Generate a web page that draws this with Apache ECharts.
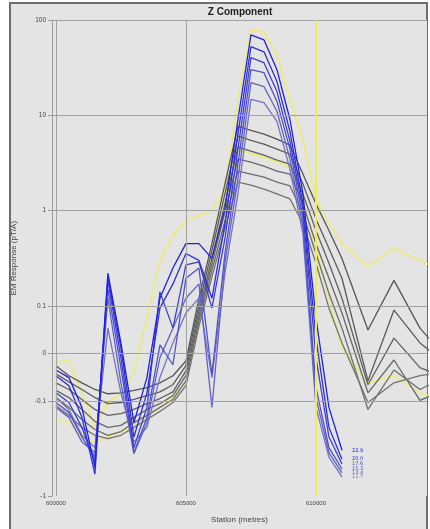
<!DOCTYPE html>
<html>
<head>
<meta charset="utf-8">
<script src="https://cdn.jsdelivr.net/npm/echarts@6/dist/echarts.min.js"></script>
<style>
html, body { margin: 0; padding: 0; background: #ffffff; }
#chart { width: 430px; height: 529px; }
</style>
</head>
<body>
<div id="chart"></div>
<script>
// stations (metres) - 500 m spacing up to 611000, then 1000 m
var stations = [600000, 600500, 601000, 601500, 602000, 602500, 603000, 603500, 604000, 604500,
    605000, 605500, 606000, 606500, 607000, 607500, 608000, 608500, 609000, 609500,
    610000, 610500, 611000, 612000, 613000, 614000, 614500];

// EM response pT/A, blue channels (end at 611000)
var blue1 = [-0.035, -0.051, -0.117, -0.50, 0.22, 0.022, -0.169, -0.051, 0.12, 0.25, 0.45, 0.45, 0.315, 1.05, 9.1, 70.6, 62.7, 30.4, 9.1, 1.50, 0.074, -0.117, -0.33];
var blue2 = [-0.047, -0.068, -0.149, -0.59, 0.20, 0.011, -0.24, -0.083, 0.095, 0.17, 0.355, 0.30, 0.12, 0.73, 6.4, 53.0, 46.9, 22.8, 6.8, 1.18, 0.032, -0.19, -0.41];
var blue3 = [-0.083, -0.104, -0.19, -0.44, 0.185, -0.009, -0.31, -0.117, 0.14, 0.053, 0.27, 0.29, 0.095, 0.51, 4.44, 40.6, 36.0, 17.9, 5.4, 1.0, -0.009, -0.24, -0.46];
var blue4 = [-0.104, -0.132, -0.24, -0.39, 0.15, -0.030, -0.35, -0.149, 0.018, -0.024, 0.195, 0.25, -0.045, 0.355, 3.09, 30.4, 28.3, 14.1, 4.44, 0.82, -0.072, -0.31, -0.52];
var blue5 = [-0.117, -0.149, -0.27, -0.35, 0.12, -0.062, -0.36, -0.169, -0.009, 0.053, 0.12, 0.17, -0.117, 0.28, 2.16, 22.2, 20.2, 11.1, 3.49, 0.68, -0.093, -0.35, -0.57];
var blue6 = [-0.093, -0.123, -0.23, -0.31, 0.053, -0.083, -0.27, -0.19, -0.051, 0.022, 0.085, 0.12, -0.051, 0.22, 1.50, 14.8, 13.7, 8.7, 2.74, 0.57, -0.117, -0.39, -0.63];
var blueNames = ['22.9', '20.0', '17.6', '15.3', '13.4', '11.7'];

// black channels
var black1 = [-0.026, -0.047, -0.062, -0.076, -0.085, -0.083, -0.078, -0.072, -0.062, -0.047, -0.016, 0.12, 0.45, 1.91, 7.7, 7.0, 6.4, 5.65, 4.9, 2.43, 1.18, 0.62, 0.315, 0.049, 0.185, 0.053, 0.022];
var black2 = [-0.043, -0.060, -0.076, -0.093, -0.107, -0.104, -0.097, -0.089, -0.081, -0.066, -0.026, 0.101, 0.38, 1.50, 6.1, 5.5, 5.0, 4.44, 3.94, 1.91, 0.82, 0.40, 0.195, -0.058, 0.091, 0.022, 0.0];
var black3 = [-0.062, -0.076, -0.097, -0.123, -0.142, -0.136, -0.123, -0.107, -0.095, -0.081, -0.037, 0.089, 0.315, 1.18, 4.66, 4.23, 3.84, 3.41, 3.09, 1.50, 0.62, 0.28, 0.12, -0.066, 0.032, -0.030, -0.041];
var black4 = [-0.078, -0.093, -0.123, -0.164, -0.19, -0.181, -0.149, -0.123, -0.107, -0.089, -0.047, 0.078, 0.275, 0.97, 3.49, 3.24, 2.94, 2.61, 2.43, 1.18, 0.45, 0.195, 0.085, -0.083, -0.014, -0.099, -0.087];
var black5 = [-0.093, -0.117, -0.157, -0.20, -0.23, -0.21, -0.169, -0.142, -0.117, -0.097, -0.058, 0.068, 0.235, 0.78, 2.61, 2.43, 2.26, 2.0, 1.82, 0.93, 0.355, 0.135, 0.053, -0.123, -0.035, -0.076, -0.062];
var black6 = [-0.112, -0.142, -0.19, -0.23, -0.25, -0.23, -0.19, -0.157, -0.129, -0.104, -0.068, 0.057, 0.20, 0.65, 2.0, 1.86, 1.69, 1.50, 1.33, 0.73, 0.28, 0.095, 0.022, -0.104, -0.062, -0.047, -0.043];

// yellow channels
var yellow1 = [-0.020, -0.014, -0.083, -0.19, -0.104, -0.083, -0.041, 0.074, 0.30, 0.55, 0.78, 0.89, 1.0, 1.69, 14.8, 79.6, 75.9, 43.6, 14.8, 5.65, 1.33, 0.73, 0.45, 0.26, 0.40, 0.30, 0.26];
var yellow2 = [-0.149, -0.169, -0.24, -0.27, -0.24, -0.214, -0.181, -0.149, -0.117, -0.093, -0.062, 0.074, 0.355, 1.50, 4.44, 4.02, 3.66, 3.25, 2.88, 1.33, 0.40, 0.12, 0.011, -0.062, -0.047, -0.083, -0.093];

var yTickVals = [-1.5, -0.5, 0, 0.5, 1.5, 2.5, 3.5];
var yTickText = ['-1', '-0.1', '0', '0.1', '1', '10', '100'];
var xTickVals = [600000, 605000, 610000];
var conductorX = 610000;

// symmetric log: linear between -0.1 and 0.1
function sym(v) {
    if (Math.abs(v) <= 0.1) return v * 5;
    var s = v < 0 ? -1 : 1;
    return s * (Math.log10(Math.abs(v)) + 1.5);
}
function pts(vals) {
    return vals.map(function (v, i) { return [stations[i], sym(v)]; });
}

var chart = echarts.init(document.getElementById('chart'));
var series = [];

// grid lines + conductor marker
series.push({
    type: 'line',
    data: [[600000, 0]],
    symbol: 'none',
    lineStyle: { opacity: 0 },
    z: 1,
    markLine: {
        silent: true,
        symbol: 'none',
        animation: false,
        label: { show: false },
        lineStyle: { color: '#a2a2a2', width: 1, type: 'solid' },
        data: [
            { yAxis: 3.5 }, { yAxis: 2.5 }, { yAxis: 1.5 }, { yAxis: 0.5 },
            { yAxis: 0 }, { yAxis: -0.5 },
            { xAxis: 600000 }, { xAxis: 605000 },
            { xAxis: conductorX, lineStyle: { color: '#f0ec55', width: 2 } }
        ]
    }
});

[yellow2, yellow1].forEach(function (d) {
    series.push({
        type: 'line', data: pts(d), symbol: 'none', z: 2,
        lineStyle: { color: '#eeea72', width: 1.6 }
    });
});

var greys = ['#555555', '#5b5b5b', '#616161', '#676767', '#6d6d6d', '#737373'];
[black1, black2, black3, black4, black5, black6].forEach(function (d, i) {
    series.push({
        type: 'line', data: pts(d), symbol: 'none', z: 3,
        lineStyle: { color: greys[i], width: 1.3 }
    });
});

var blues = ['#7272c2', '#6262c6', '#5050ca', '#3e3ed2', '#2e2eda', '#2020e2'];
[blue6, blue5, blue4, blue3, blue2, blue1].forEach(function (d, i) {
    series.push({
        type: 'line', name: blueNames[5 - i], data: pts(d), symbol: 'none', z: 4,
        lineStyle: { color: blues[i], width: 1.3 },
        endLabel: {
            show: true, formatter: '{a}', distance: 10,
            fontSize: 5, color: blues[i], fontFamily: 'DejaVu Sans'
        }
    });
});

var option = {
    animation: false,
    backgroundColor: '#ffffff',
    graphic: [
        {
            type: 'rect', z: -10, silent: true,
            shape: { x: 10, y: 3, width: 417, height: 535 },
            style: { fill: '#e4e4e4', stroke: '#6e6e6e', lineWidth: 2 }
        },
        {
            type: 'text', x: 240, y: 12, z: 10,
            style: {
                text: 'Z Component', fill: '#1e1e1e', font: 'bold 10px "Liberation Sans"',
                textAlign: 'center', textVerticalAlign: 'middle'
            }
        }
    ],
    grid: { left: 52, right: 3, top: 20.5, bottom: 30, show: true, backgroundColor: '#e4e4e4', borderWidth: 0 },
    xAxis: {
        type: 'value', min: 599850, max: 614270,
        name: 'Station (metres)', nameLocation: 'middle', nameGap: 20,
        nameTextStyle: { fontSize: 8, color: '#444', fontFamily: 'Liberation Sans' },
        axisLine: { show: true, lineStyle: { color: '#9a9a9a' } },
        axisTick: { show: true, customValues: xTickVals, length: 3, lineStyle: { color: '#9a9a9a' } },
        axisLabel: {
            customValues: xTickVals, fontSize: 6, color: '#444', margin: 4,
            fontFamily: 'Liberation Sans',
            formatter: function (v) { return String(v); }
        },
        splitLine: { show: false }
    },
    yAxis: {
        type: 'value', min: -1.5, max: 3.5,
        name: 'EM Response (pT/A)', nameLocation: 'middle', nameGap: 34,
        nameTextStyle: { fontSize: 8, color: '#444', fontFamily: 'Liberation Sans' },
        axisLine: { show: true, lineStyle: { color: '#9a9a9a' } },
        axisTick: { show: true, customValues: yTickVals, length: 4, lineStyle: { color: '#9a9a9a' } },
        axisLabel: {
            customValues: yTickVals, fontSize: 6.5, color: '#444', margin: 6,
            fontFamily: 'Liberation Sans',
            formatter: function (v) {
                var i = yTickVals.indexOf(v);
                return i >= 0 ? yTickText[i] : '';
            }
        },
        splitLine: { show: false }
    },
    series: series
};
chart.setOption(option);
</script>
</body>
</html>
